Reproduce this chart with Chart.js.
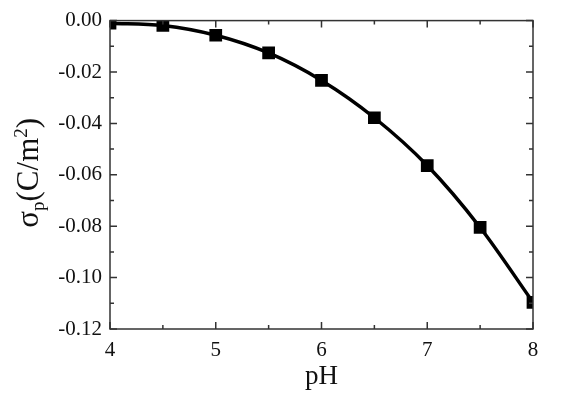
<!DOCTYPE html>
<html>
<head>
<meta charset="utf-8">
<script src="https://cdn.jsdelivr.net/npm/chart.js@4"></script>
<style>
  html, body { margin: 0; padding: 0; background: #fff; }
  #wrap { width: 564px; height: 400px; }
</style>
</head>
<body>
<div id="wrap"><canvas id="myChart" width="564" height="400"></canvas></div>
<script>
// data
const pH = [4, 4.5, 5, 5.5, 6, 6.5, 7, 7.5, 8];
const sigma = [-0.001, -0.0019, -0.0057, -0.0126, -0.0233, -0.0378, -0.0564, -0.0805, -0.1096];
const xTicks = [4, 5, 6, 7, 8];
const yTicks = [0, -0.02, -0.04, -0.06, -0.08, -0.10, -0.12];

const serif = 'Liberation Serif';
Chart.defaults.font.family = serif;

// inward ticks on all four sides + axis titles
const frameTicks = {
  id: 'frameTicks',
  afterDraw(chart) {
    const ctx = chart.ctx;
    const a = chart.chartArea;
    const xs = chart.scales.x, ys = chart.scales.y;
    ctx.save();
    ctx.strokeStyle = '#333';
    ctx.lineWidth = 1.5;
    ctx.strokeRect(a.left, a.top, a.right - a.left, a.bottom - a.top);
    ctx.beginPath();
    for (let v = 4; v <= 8.001; v += 0.5) {
      const px = xs.getPixelForValue(v);
      const len = Math.abs(v - Math.round(v)) < 0.01 ? 7 : 4;
      ctx.moveTo(px, a.bottom); ctx.lineTo(px, a.bottom - len);
      ctx.moveTo(px, a.top); ctx.lineTo(px, a.top + len);
    }
    for (let i = 0; i <= 12; i++) {
      const py = ys.getPixelForValue(-i * 0.01);
      const len = i % 2 === 0 ? 7 : 4;
      ctx.moveTo(a.left, py); ctx.lineTo(a.left + len, py);
      ctx.moveTo(a.right, py); ctx.lineTo(a.right - len, py);
    }
    ctx.stroke();

    // x title
    ctx.fillStyle = '#111';
    ctx.font = '27px ' + serif;
    ctx.textAlign = 'center';
    ctx.textBaseline = 'middle';
    ctx.fillText('pH', (a.left + a.right) / 2, 377);

    // y title with sub/superscript
    ctx.translate(28, (a.top + a.bottom) / 2 - 2);
    ctx.rotate(-Math.PI / 2);
    ctx.textAlign = 'left';
    ctx.textBaseline = 'alphabetic';
    const big = '31px ' + serif, small = '19px ' + serif;
    const parts = [
      ['\u03c3', big, 0], ['p', small, 6], ['(C/m', big, 0], ['2', small, -11], [')', big, 0]
    ];
    let w = 0;
    parts.forEach(p => { ctx.font = p[1]; w += ctx.measureText(p[0]).width; });
    let x = -w / 2;
    parts.forEach(p => {
      ctx.font = p[1];
      ctx.fillText(p[0], x, 10 + p[2]);
      x += ctx.measureText(p[0]).width;
    });
    ctx.restore();
  }
};

const data = {
  datasets: [{
    label: 'sigma_p',
    data: pH.map((v, i) => ({ x: v, y: sigma[i] })),
    borderColor: '#000',
    backgroundColor: '#000',
    borderWidth: 3.5,
    tension: 0.4,
    cubicInterpolationMode: 'monotone',
    pointStyle: 'rect',
    pointRadius: 9,
    pointHoverRadius: 9,
    pointBorderWidth: 0
  }]
};

const config = {
  type: 'line',
  data: data,
  plugins: [frameTicks],
  options: {
    responsive: false,
    animation: false,
    events: [],
    layout: { padding: { left: 0, right: 31, top: 15, bottom: 0 } },
    plugins: { legend: { display: false }, tooltip: { enabled: false } },
    scales: {
      x: {
        type: 'linear',
        min: 4, max: 8,
        afterFit: s => { s.height = 71; },
        afterBuildTicks: s => { s.ticks = xTicks.map(v => ({ value: v })); },
        grid: { display: false, drawTicks: false },
        border: { display: false },
        ticks: {
          padding: 9,
          color: '#111',
          font: { family: serif, size: 21 },
          callback: v => String(v)
        }
      },
      y: {
        type: 'linear',
        min: -0.12, max: 0,
        afterFit: s => { s.width = 110; },
        afterBuildTicks: s => { s.ticks = yTicks.map(v => ({ value: v })); },
        grid: { display: false, drawTicks: false },
        border: { display: false },
        ticks: {
          padding: 8,
          color: '#111',
          font: { family: serif, size: 21 },
          callback: v => Math.abs(v) < 1e-9 ? '0.00' : v.toFixed(2)
        }
      }
    }
  }
};

const myChart = new Chart(document.getElementById('myChart'), config);
</script>
</body>
</html>
